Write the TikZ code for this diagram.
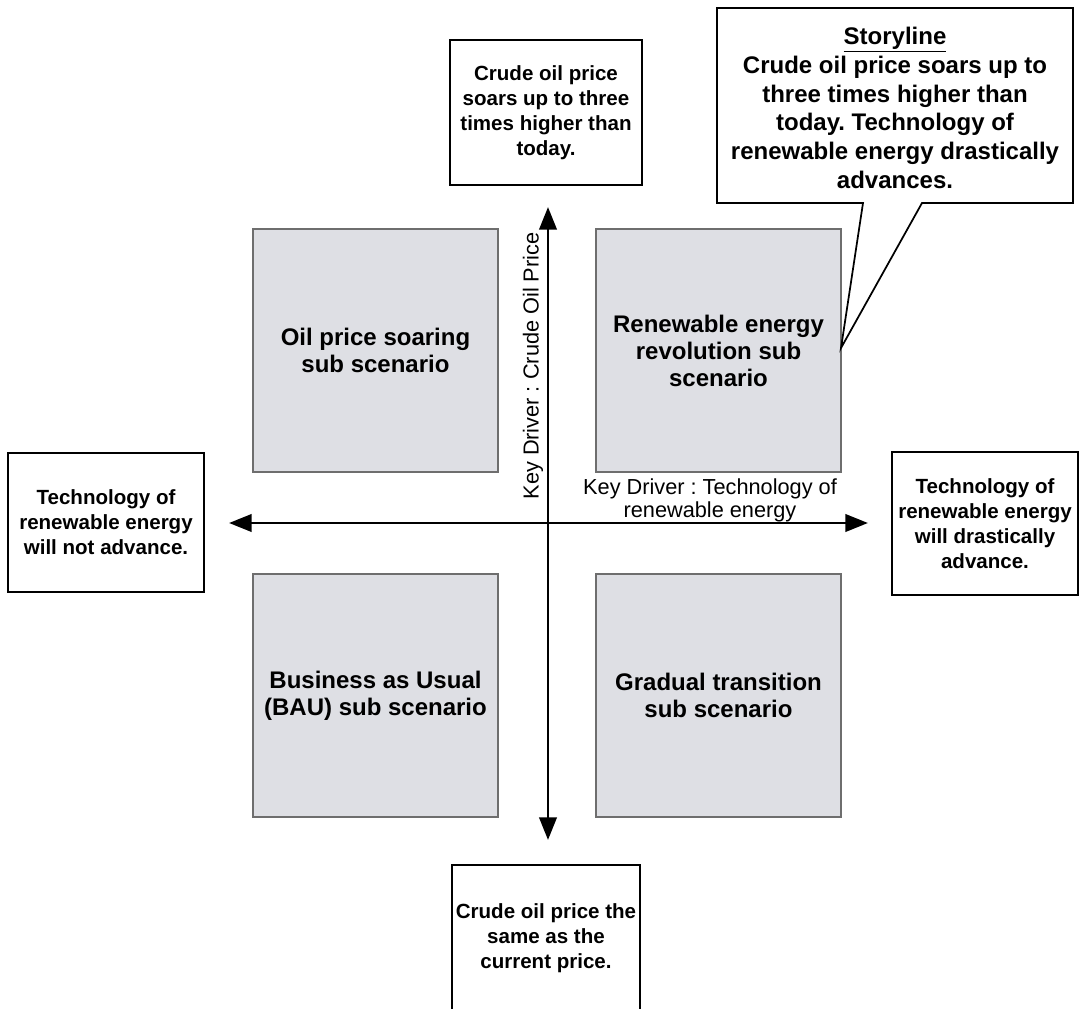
\documentclass[tikz,border=0pt]{standalone}
\usepackage{fontspec}
\setmainfont{Liberation Sans}
\usetikzlibrary{arrows.meta}
\definecolor{quadfill}{RGB}{222,223,228}
\definecolor{quadline}{RGB}{110,110,110}
\frenchspacing
\begin{document}
\begin{tikzpicture}[x=0.75pt,y=-0.75pt,
  quad/.style={draw=quadline, line width=0.8pt, fill=quadfill,
    minimum width=183.75pt, minimum height=182.25pt, inner sep=0pt,
    align=center, font=\fontsize{18}{20.25}\selectfont\bfseries},
  note/.style={draw=black, line width=1.3pt, fill=white, inner sep=0pt,
    align=center, font=\fontsize{15.4}{18.75}\selectfont\bfseries},
  axis/.style={line width=2.2pt,
    {Triangle[length=17pt,width=13pt]}-{Triangle[length=17pt,width=13pt]}},
  driver/.style={align=center, inner sep=0pt,
    font=\fontsize{16.3}{17.25}\selectfont},
  story/.style={align=center, inner sep=0pt,
    font=\fontsize{18}{21.5}\selectfont\bfseries}
]
\useasboundingbox[fill=white] (0,0) rectangle (1081,1009);

% four sub scenarios
\node[quad] (oil)  at (375.5,350.5) {Oil price soaring\\sub scenario};
\node[quad] (rev)  at (718.5,350.5) {Renewable energy\\revolution sub\\scenario};
\node[quad] (bau)  at (375.5,695.5) {Business as Usual\\(BAU) sub scenario};
\node[quad] (grad) at (718.5,695.5) {Gradual transition\\sub scenario};

% axes of the two key drivers
\coordinate (west)  at (229,523);
\coordinate (east)  at (868,523);
\coordinate (north) at (548,207);
\coordinate (south) at (548,840);
\draw[axis] (west) -- (east);
\draw[axis] (south) -- (north);

\node[driver, rotate=90] (kdv) at (533,366) {Key Driver : Crude Oil Price};
\node[driver] (kdh) at (710,500.5) {Key Driver : Technology of\\renewable energy};

% extremes of each driver
\node[note, minimum width=144pt, minimum height=108.75pt] (top) at (546,112.5)
  {Crude oil price\\soars up to three\\times higher than\\today.};
\node[note, minimum width=141pt, minimum height=109.5pt] (bottom) at (546,938)
  {Crude oil price the\\same as the\\current price.};
\node[note, minimum width=147pt, minimum height=104.25pt] (left) at (106,522.5)
  {Technology of\\renewable energy\\will not advance.};
\node[note, minimum width=139.5pt, minimum height=107.25pt] (right) at (985,523.5)
  {Technology of\\renewable energy\\will drastically\\advance.};

% storyline callout pointing at the renewable energy revolution quadrant
\coordinate (tip) at (841,348);
\draw[line width=1.3pt, fill=white, line join=miter]
  (717,8) -- (1073,8) -- (1073,203) -- (922,203) -- (tip) -- (863,203)
  -- (717,203) -- cycle;
\node[story] (story) at (895,108)
  {\underline{Storyline}\\Crude oil price soars up to\\three times higher than\\today. Technology of\\renewable energy drastically\\advances.};
\end{tikzpicture}
\end{document}
